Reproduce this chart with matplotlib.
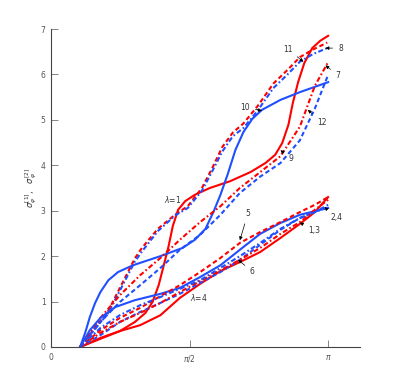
import numpy as np
import matplotlib
matplotlib.use("Agg")
import matplotlib.pyplot as plt

# ---------------- data ----------------
x_common = [0.33, 0.56, 0.78, 1.01, 1.24, 1.46, 1.69, 1.92, 2.14, 2.37, 2.60, 2.82, 2.99, 3.14]

# upper group (lambda = 1)
up_red_solid_x = [0.33, 0.56, 0.78, 0.95, 1.07, 1.15, 1.22, 1.27, 1.33, 1.38, 1.44, 1.52, 1.63, 1.80,
                  2.03, 2.26, 2.43, 2.54, 2.62, 2.69, 2.74, 2.80, 2.87, 2.96, 3.05, 3.14]
up_red_solid_y = [0.00, 0.18, 0.35, 0.55, 0.75, 0.99, 1.36, 1.74, 2.20, 2.66, 3.02, 3.21, 3.35, 3.50,
                  3.65, 3.85, 4.05, 4.23, 4.49, 4.89, 5.37, 5.83, 6.25, 6.58, 6.74, 6.85]

up_blue_solid_x = [0.33, 0.39, 0.44, 0.50, 0.56, 0.65, 0.76, 0.93, 1.24, 1.49, 1.63, 1.75, 1.84, 1.92,
                   2.00, 2.09, 2.18, 2.28, 2.39, 2.60, 2.82, 3.14]
up_blue_solid_y = [0.00, 0.33, 0.66, 0.97, 1.21, 1.47, 1.65, 1.80, 2.00, 2.18, 2.36, 2.60, 2.97, 3.35,
                   3.79, 4.34, 4.73, 5.02, 5.22, 5.44, 5.61, 5.83]

up_pair_x = [0.33, 0.65, 0.95, 1.03, 1.21, 1.41, 1.55, 1.71, 1.83, 1.94, 2.06, 2.18, 2.34, 2.52, 2.68, 2.82, 2.97, 3.13]
up_red_dash_y = [0.00, 0.80, 1.95, 2.18, 2.60, 2.92, 3.10, 3.50, 3.95, 4.40, 4.72, 4.92, 5.30, 5.80, 6.10, 6.38, 6.55, 6.70]
up_blue_dashdot_y = [0.00, 0.75, 1.88, 2.10, 2.55, 2.90, 3.06, 3.44, 3.88, 4.30, 4.64, 4.82, 5.20, 5.70, 6.00, 6.28, 6.45, 6.58]

up_red_dashdot_y = [0.00, 0.64, 1.14, 1.58, 1.96, 2.36, 2.75, 3.10, 3.50, 3.85, 4.20, 4.85, 5.75, 6.27]
up_blue_dashed_y = [0.00, 0.55, 0.99, 1.36, 1.74, 2.14, 2.47, 2.91, 3.39, 3.75, 4.05, 4.55, 5.25, 5.99]

# lower group (lambda = 4)
lo_red_solid_y = [0.00, 0.20, 0.35, 0.48, 0.70, 1.08, 1.39, 1.67, 1.87, 2.09, 2.40, 2.71, 2.97, 3.30]
lo_blue_solid_x = [0.33, 0.44, 0.56, 0.73, 0.95, 1.24, 1.46, 1.69, 1.92, 2.14, 2.37, 2.60, 2.82, 3.14]
lo_blue_solid_y = [0.00, 0.37, 0.64, 0.88, 1.03, 1.17, 1.30, 1.54, 1.80, 2.14, 2.49, 2.73, 2.91, 3.06]
lo_red_dash_y = [0.00, 0.37, 0.64, 0.86, 1.12, 1.36, 1.65, 1.96, 2.29, 2.53, 2.75, 2.97, 3.13, 3.30]
lo_blue_dash_y = [0.00, 0.26, 0.55, 0.77, 0.97, 1.17, 1.41, 1.65, 1.92, 2.25, 2.58, 2.84, 2.97, 3.13]
lo_red_dashdot_y = [0.00, 0.31, 0.55, 0.75, 0.97, 1.21, 1.45, 1.69, 1.92, 2.18, 2.49, 2.75, 3.02, 3.24]
lo_blue_dashdot_y = [0.00, 0.42, 0.70, 0.92, 1.10, 1.28, 1.47, 1.74, 2.00, 2.29, 2.60, 2.84, 2.97, 3.08]

x_ticks = [0, np.pi / 2, np.pi]
x_tick_labels = ["0", r"$\pi/2$", r"$\pi$"]
y_ticks = [0, 1, 2, 3, 4, 5, 6, 7]

# annotations: label, text position, arrow target
annotations = [
    ("11", (2.68, 6.56), (2.86, 6.28)),
    ("8", (3.28, 6.58), (3.11, 6.58)),
    ("7", (3.25, 5.98), (3.11, 6.20)),
    ("10", (2.20, 5.28), (2.39, 5.20)),
    ("12", (3.07, 4.95), (2.91, 5.22)),
    ("9", (2.72, 4.16), (2.60, 4.33)),
    ("5", (2.23, 2.93), (2.14, 2.35)),
    ("6", (2.28, 1.66), (2.12, 1.92)),
    ("1,3", (2.98, 2.56), (2.82, 2.74)),
    ("2,4", (3.23, 2.84), (3.10, 3.08)),
]
lambda_labels = [(r"$\lambda$=1", (1.38, 3.25)), (r"$\lambda$=4", (1.67, 1.10))]

RED = "#ff0000"
BLUE = "#1f4fff"
DASH = (0, (2.2, 1.4))
DASHDOT = (0, (2.4, 1.2, 0.8, 1.2))

fig = plt.figure(figsize=(3.97, 3.90), dpi=100)
ax = fig.add_axes([0.1285, 0.1103, 0.778, 0.8153])

lw = 1.5
# upper group
ax.plot(up_red_solid_x, up_red_solid_y, color=RED, lw=lw, ls="-")
ax.plot(up_blue_solid_x, up_blue_solid_y, color=BLUE, lw=lw, ls="-")
ax.plot(up_pair_x, up_red_dash_y, color=RED, lw=lw, ls=DASH)
ax.plot(up_pair_x, up_blue_dashdot_y, color=BLUE, lw=lw, ls=DASHDOT)
ax.plot(x_common, up_red_dashdot_y, color=RED, lw=lw, ls=DASHDOT)
ax.plot(x_common, up_blue_dashed_y, color=BLUE, lw=lw, ls=DASH)
# lower group
ax.plot(x_common, lo_red_solid_y, color=RED, lw=lw, ls="-")
ax.plot(lo_blue_solid_x, lo_blue_solid_y, color=BLUE, lw=lw, ls="-")
ax.plot(x_common, lo_red_dash_y, color=RED, lw=lw, ls=DASH)
ax.plot(x_common, lo_blue_dash_y, color=BLUE, lw=lw, ls=DASH)
ax.plot(x_common, lo_red_dashdot_y, color=RED, lw=lw, ls=DASHDOT)
ax.plot(x_common, lo_blue_dashdot_y, color=BLUE, lw=lw, ls=DASHDOT)

for lab, txt, tgt in annotations:
    ax.annotate(lab, xy=tgt, xytext=txt, fontsize=5.5, ha="center", va="center", color="#333333",
                arrowprops=dict(arrowstyle="-|>", color="black", lw=0.5,
                                mutation_scale=5, shrinkA=2, shrinkB=0))
for lab, pos in lambda_labels:
    ax.text(pos[0], pos[1], lab, fontsize=5.5, ha="center", va="center", color="#333333")

ax.set_xlim(0, 3.50)
ax.set_ylim(0, 7)
ax.set_xticks(x_ticks)
ax.set_xticklabels(x_tick_labels)
ax.set_yticks(y_ticks)
ax.tick_params(direction="in", length=5, width=0.5, labelsize=5.5, pad=4,
               colors="#555555", labelcolor="#555555")
for s in ["top", "right"]:
    ax.spines[s].set_visible(False)
for s in ["left", "bottom"]:
    ax.spines[s].set_linewidth(0.8)
    ax.spines[s].set_color("#444444")
ax.set_ylabel(r"$\sigma_{\varphi}^{[1]}$,   $\sigma_{\varphi}^{[2]}$", fontsize=6, labelpad=1, color="#333333")

fig.savefig("out.png", dpi=100)
